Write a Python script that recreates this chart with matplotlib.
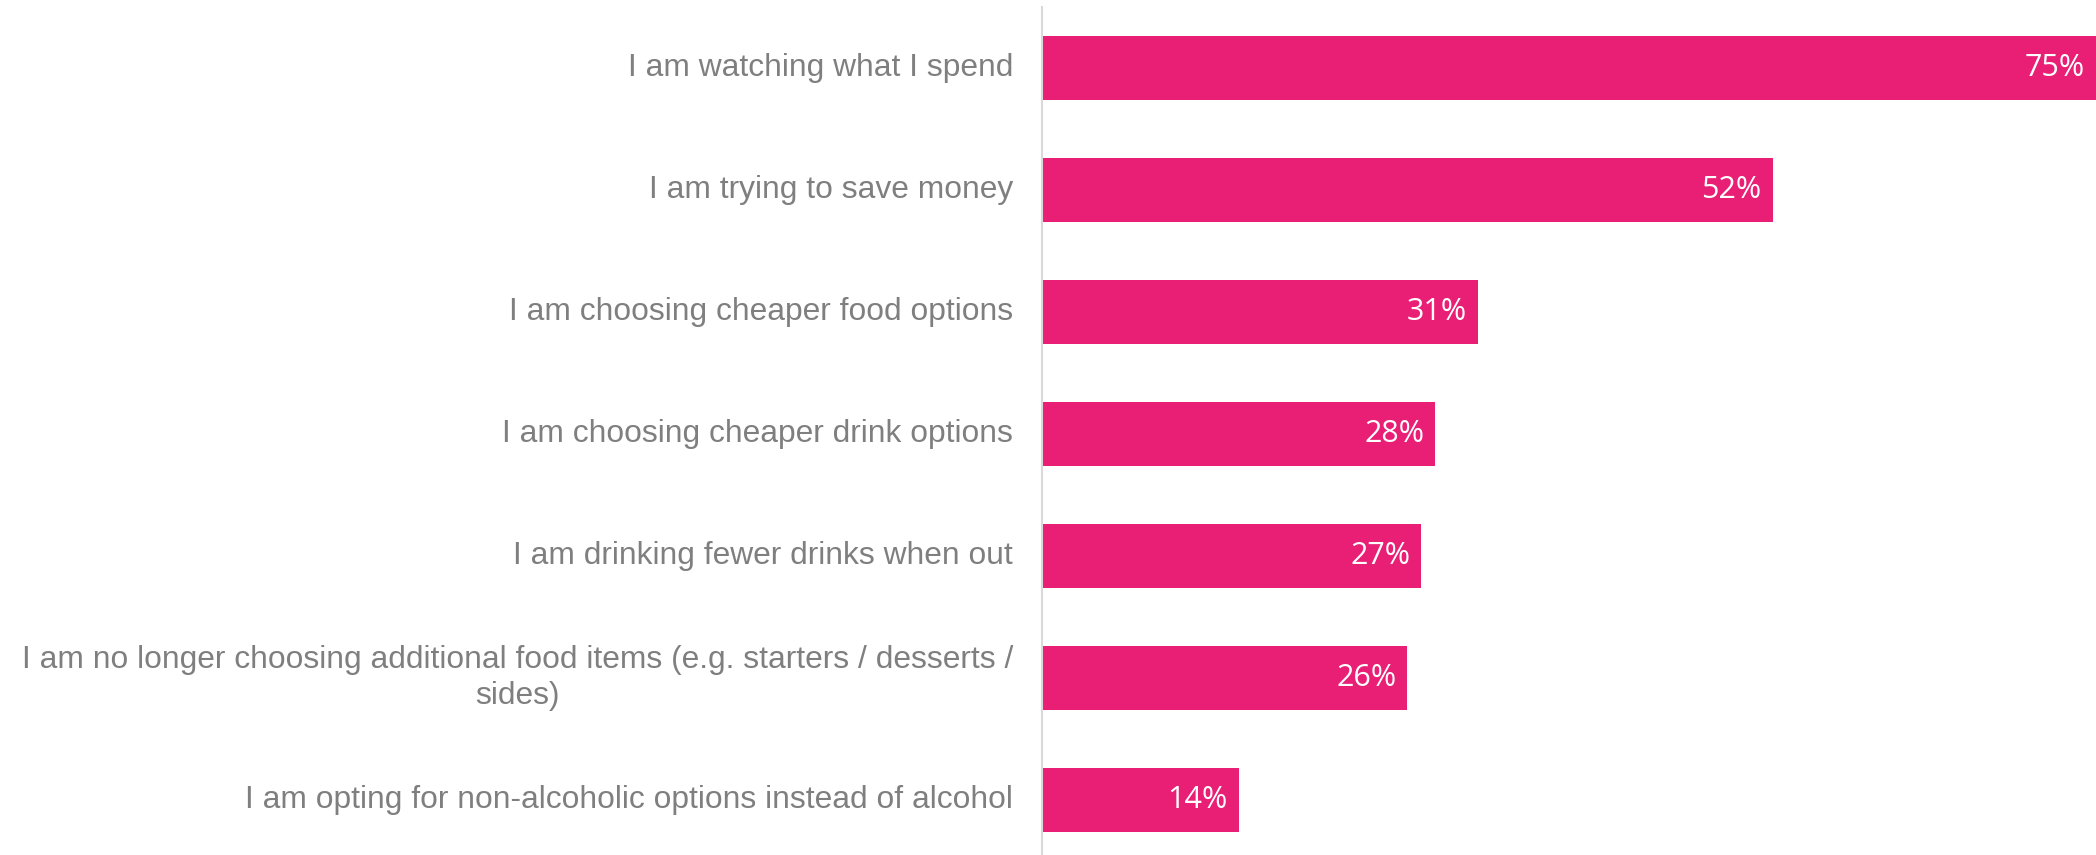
import matplotlib.pyplot as plt

# Survey answers and share of respondents (%)
answers = [
    'I am watching what I spend',
    'I am trying to save money',
    'I am choosing cheaper food options',
    'I am choosing cheaper drink options',
    'I am drinking fewer drinks when out',
    'I am no longer choosing additional food items (e.g. starters / desserts /\nsides)',
    'I am opting for non-alcoholic options instead of alcohol',
]
shares = [75, 52, 31, 28, 27, 26, 14]

bar_colour = '#E91E75'
label_grey = '#7F7F7F'

fig = plt.figure(figsize=(20.96, 8.55), dpi=100)
ax = fig.add_axes([1042 / 2096, -6 / 855, 1054 / 2096, 854 / 855])

pos = list(range(len(answers)))
ax.barh(pos, shares, height=0.525, color=bar_colour)
ax.set_xlim(0, 75)
ax.set_ylim(len(answers) - 0.5, -0.5)

# Category labels to the left of the axis
for y, text in zip(pos, answers):
    ax.text(-2.05, y, text, ha='right', va='center', multialignment='center',
            color=label_grey, fontsize=22.9, family='Liberation Sans',
            linespacing=1.24)

# Value labels inside the end of each bar
for y, v in zip(pos, shares):
    ax.text(v - 0.8, y, f'{v}%', ha='right', va='center',
            color='white', fontsize=22, family='Open Sans')

ax.set_xticks([])
ax.set_yticks([])
for side in ['top', 'right', 'bottom']:
    ax.spines[side].set_visible(False)
ax.spines['left'].set_color('#D9D9D9')
ax.spines['left'].set_linewidth(1.5)

fig.savefig('out.png', dpi=100)
